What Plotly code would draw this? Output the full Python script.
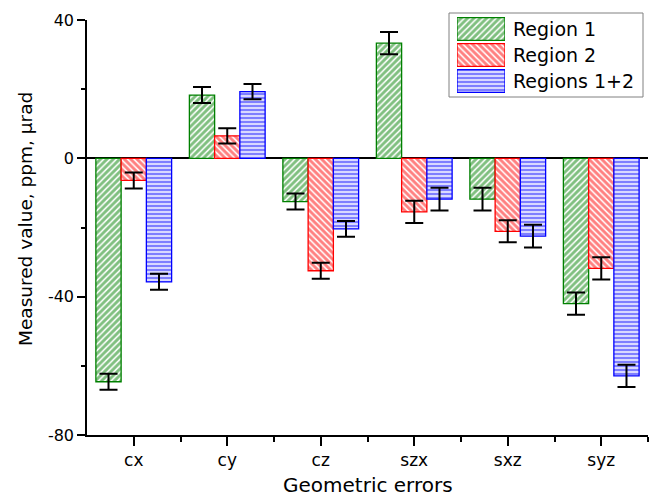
import plotly.graph_objects as go

categories = ["cx", "cy", "cz", "szx", "sxz", "syz"]
region1 = [-64.6, 18.3, -12.5, 33.3, -11.8, -42.0]
region2 = [-6.4, 6.5, -32.5, -15.5, -21.1, -31.8]
regions12 = [-35.7, 19.3, -20.4, -11.8, -22.5, -62.9]
err1 = [2.3, 2.3, 2.3, 3.2, 3.3, 3.2]
err2 = [2.3, 2.2, 2.3, 3.2, 3.2, 3.2]
err12 = [2.3, 2.2, 2.3, 3.3, 3.3, 3.2]
series_names = ["Region 1", "Region 2", "Regions 1+2"]
colors = ["#008000", "#FF0000", "#0000FF"]
shapes = ["/", "\\", "-"]
ytick_vals = [-80, -40, 0, 40]
ytick_text = ["-80", "-40", "0", "40"]
yminor_vals = [-60, -20, 20]

xpos = list(range(len(categories)))
FONT = "DejaVu Sans, Liberation Sans, Arial, sans-serif"

W, H = 652, 496
ml, mr, mt, mb = 87, 4, 10, 61
pw, ph = W - ml - mr, H - mt - mb


def px_x(p):
    return (p - ml) / pw


def px_y(p):
    return (H - mb - p) / ph


def pattern(col, shp):
    return dict(shape=shp, fgcolor=col, bgcolor="white",
                size=4.5 if shp != "-" else 4, solidity=0.65,
                fillmode="overlay")


fig = go.Figure()
for name, vals, errs, col, shp in zip(series_names, [region1, region2, regions12],
                                       [err1, err2, err12], colors, shapes):
    fig.add_trace(go.Bar(
        x=xpos, y=vals, name=name, showlegend=False,
        marker=dict(color="white", line=dict(color=col, width=1.3),
                    pattern=pattern(col, shp)),
        error_y=dict(type="data", array=errs, visible=True, color="black",
                     thickness=2, width=9),
        xaxis="x", yaxis="y",
    ))

# legend swatches drawn on a small inset axis
for name, col, shp in zip(series_names, colors, shapes):
    fig.add_trace(go.Bar(
        x=[1], y=[name], orientation="h", showlegend=False, hoverinfo="skip",
        marker=dict(color="white", line=dict(color=col, width=1.3),
                    pattern=pattern(col, shp)),
        xaxis="x2", yaxis="y2", width=0.88,
    ))

fig.update_layout(
    width=W, height=H,
    margin=dict(l=ml, r=mr, t=mt, b=mb, pad=0),
    paper_bgcolor="white", plot_bgcolor="white",
    barmode="group", bargap=0.19, bargroupgap=0,
    font=dict(family=FONT, color="black", size=16),
    xaxis=dict(
        domain=[0, 1], range=[-0.5, 5.5], automargin=False,
        tickmode="array", tickvals=xpos, ticktext=categories,
        showline=True, linecolor="black", linewidth=1.5,
        ticks="outside", ticklen=9, tickwidth=1.5, tickcolor="black",
        minor=dict(tickmode="array", tickvals=[i + 0.5 for i in xpos],
                   ticks="outside", ticklen=5, tickwidth=1.5, tickcolor="black"),
        showgrid=False, zeroline=False,
        tickfont=dict(size=17),
    ),
    yaxis=dict(
        domain=[0, px_y(20)], range=[-80, 40], automargin=False,
        tickmode="array", tickvals=ytick_vals, ticktext=ytick_text,
        showline=True, linecolor="black", linewidth=1.5,
        ticks="outside", ticklen=8, tickwidth=1.5, tickcolor="black",
        minor=dict(tickmode="array", tickvals=yminor_vals,
                   ticks="outside", ticklen=4, tickwidth=1.5, tickcolor="black"),
        showgrid=False,
        zeroline=True, zerolinecolor="black", zerolinewidth=1.5,
        tickfont=dict(size=16),
    ),
    xaxis2=dict(domain=[px_x(457), px_x(505)], range=[0, 1], visible=False,
                anchor="y2", fixedrange=True, automargin=False),
    yaxis2=dict(domain=[px_y(94), px_y(16)], anchor="x2", side="right",
                categoryorder="array", categoryarray=series_names[::-1],
                showline=False, showgrid=False, zeroline=False, ticks="",
                ticklabelstandoff=7, automargin=False,
                tickfont=dict(size=19), fixedrange=True),
    shapes=[dict(type="rect", xref="paper", yref="paper",
                 x0=px_x(449), x1=px_x(643), y0=px_y(97), y1=px_y(13),
                 line=dict(color="#808080", width=1), fillcolor="rgba(0,0,0,0)",
                 layer="below")],
    annotations=[
        dict(text="Measured value, ppm, µrad", xref="paper", yref="paper",
             x=px_x(25), y=px_y(219), textangle=-90, showarrow=False,
             xanchor="center", yanchor="middle", font=dict(size=18.5)),
        dict(text="Geometric errors", xref="paper", yref="paper",
             x=0.5, y=px_y(485), showarrow=False,
             xanchor="center", yanchor="middle", font=dict(size=20)),
    ],
)

fig.write_html("out.html")
